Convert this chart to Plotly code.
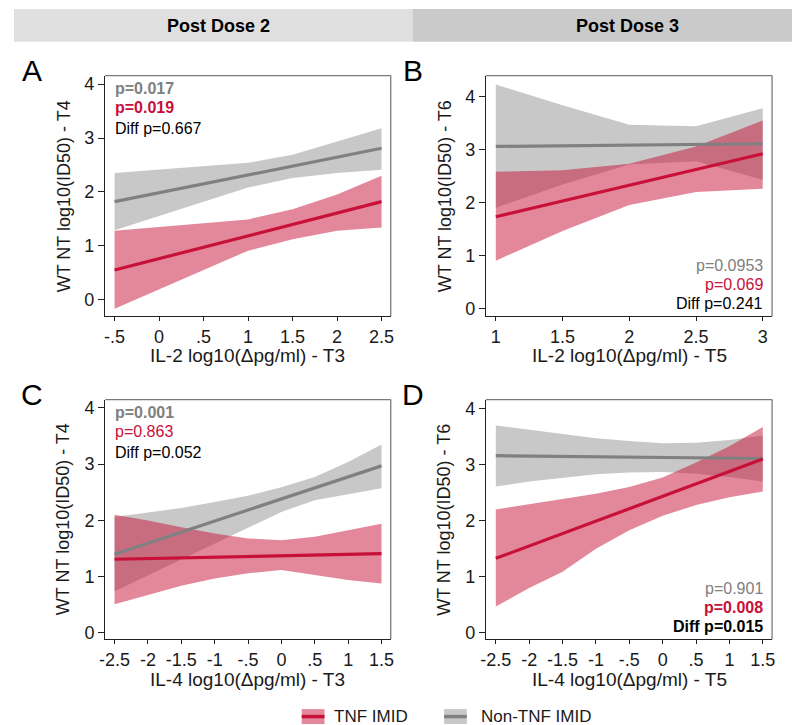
import plotly.graph_objects as go

# ---------------- data ----------------
# Panel A : IL-2 (T3) vs WT NT (T4), Post Dose 2
A_line_x = [-0.5, 2.5]
A_gray_line = [1.82, 2.81]
A_red_line = [0.55, 1.82]
A_band_x = [-0.5, 1, 1.5, 2, 2.5]
A_gray_upper = [2.35, 2.54, 2.69, 2.94, 3.18]
A_gray_lower = [1.29, 2.08, 2.26, 2.35, 2.41]
A_red_upper = [1.28, 1.49, 1.68, 1.95, 2.30]
A_red_lower = [-0.17, 0.91, 1.12, 1.28, 1.34]

# Panel B : IL-2 (T5) vs WT NT (T6), Post Dose 3
B_line_x = [1, 3]
B_gray_line = [3.06, 3.11]
B_red_line = [1.73, 2.92]
B_band_x = [1, 1.5, 2, 2.5, 3]
B_gray_upper = [4.23, 3.84, 3.47, 3.44, 3.78]
B_gray_lower = [1.90, 2.34, 2.72, 2.78, 2.43]
B_red_upper = [2.58, 2.61, 2.73, 3.06, 3.55]
B_red_lower = [0.90, 1.46, 1.95, 2.20, 2.26]

# Panel C : IL-4 (T3) vs WT NT (T4), Post Dose 2
C_line_x = [-2.5, 1.5]
C_gray_line = [1.40, 2.97]
C_red_line = [1.31, 1.41]
C_band_x = [-2.5, -2, -1.5, -1, -0.5, 0, 0.5, 1, 1.5]
C_gray_upper = [2.06, 2.14, 2.22, 2.33, 2.44, 2.59, 2.77, 3.04, 3.35]
C_gray_lower = [0.74, 1.02, 1.30, 1.58, 1.87, 2.15, 2.36, 2.47, 2.57]
C_red_upper = [2.10, 2.00, 1.88, 1.77, 1.68, 1.65, 1.71, 1.83, 1.94]
C_red_lower = [0.51, 0.68, 0.84, 0.97, 1.06, 1.12, 1.03, 0.94, 0.88]

# Panel D : IL-4 (T5) vs WT NT (T6), Post Dose 3
D_line_x = [-2.5, 1.5]
D_gray_line = [3.16, 3.11]
D_red_line = [1.33, 3.10]
D_band_x = [-2.5, -2, -1.5, -1, -0.5, 0, 0.5, 1, 1.5]
D_gray_upper = [3.70, 3.62, 3.54, 3.47, 3.42, 3.38, 3.39, 3.44, 3.52]
D_gray_lower = [2.61, 2.70, 2.77, 2.83, 2.86, 2.87, 2.84, 2.78, 2.70]
D_red_upper = [2.20, 2.30, 2.39, 2.48, 2.60, 2.77, 3.04, 3.33, 3.67]
D_red_lower = [0.47, 0.80, 1.09, 1.50, 1.83, 2.09, 2.28, 2.42, 2.52]

# tick labels
AB_y_ticks = [0, 1, 2, 3, 4]
A_x_ticks = [-0.5, 0, 0.5, 1, 1.5, 2, 2.5]
A_x_labels = ["-.5", "0", ".5", "1", "1.5", "2", "2.5"]
B_x_ticks = [1, 1.5, 2, 2.5, 3]
B_x_labels = ["1", "1.5", "2", "2.5", "3"]
CD_x_ticks = [-2.5, -2, -1.5, -1, -0.5, 0, 0.5, 1, 1.5]
CD_x_labels = ["-2.5", "-2", "-1.5", "-1", "-.5", "0", ".5", "1", "1.5"]

# text
x_titles = ["IL-2 log10(\u0394pg/ml) - T3", "IL-2 log10(\u0394pg/ml) - T5",
            "IL-4 log10(\u0394pg/ml) - T3", "IL-4 log10(\u0394pg/ml) - T5"]
y_titles = ["WT NT log10(ID50) - T4", "WT NT log10(ID50) - T6",
            "WT NT log10(ID50) - T4", "WT NT log10(ID50) - T6"]
panel_letters = ["A", "B", "C", "D"]
# (gray p, red p, diff p) and bold flags
p_texts = [("p=0.017", "p=0.019", "Diff p=0.667"),
           ("p=0.0953", "p=0.069", "Diff p=0.241"),
           ("p=0.001", "p=0.863", "Diff p=0.052"),
           ("p=0.901", "p=0.008", "Diff p=0.015")]
p_bold = [(True, True, False), (False, False, False),
          (True, False, False), (False, True, True)]
headers = ["Post Dose 2", "Post Dose 3"]
legend_names = ["TNF IMID", "Non-TNF IMID"]

# ---------------- styling ----------------
RED = "rgb(200,16,56)"
RED_FILL = "rgba(200,16,56,0.5)"
GRAY = "rgb(128,128,128)"
GRAY_FILL = "rgb(200,200,200)"
FONT = "Liberation Sans, Arial, sans-serif"
W, H = 800, 725

def px_x(p):
    return p / W

def px_y(p):
    return 1 - p / H

# plot frames in pixels: (left, right, top, bottom)
frames = [(92, 381, 67, 309.3), (477.3, 766.7, 67, 309.3),
          (92.3, 381, 393.3, 634.7), (477.3, 766.7, 393.3, 634.7)]
x_ranges = [[-0.608, 2.603], [0.926, 3.07], [-2.639, 1.638], [-2.648, 1.639]]
y_ranges = [[-0.306, 4.16], [-0.15, 4.40], [-0.113, 4.148], [-0.113, 4.16]]
x_tickvals = [A_x_ticks, B_x_ticks, CD_x_ticks, CD_x_ticks]
x_ticktext = [A_x_labels, B_x_labels, CD_x_labels, CD_x_labels]

panels = [
    (A_line_x, A_gray_line, A_red_line, A_band_x, A_gray_upper, A_gray_lower, A_red_upper, A_red_lower),
    (B_line_x, B_gray_line, B_red_line, B_band_x, B_gray_upper, B_gray_lower, B_red_upper, B_red_lower),
    (C_line_x, C_gray_line, C_red_line, C_band_x, C_gray_upper, C_gray_lower, C_red_upper, C_red_lower),
    (D_line_x, D_gray_line, D_red_line, D_band_x, D_gray_upper, D_gray_lower, D_red_upper, D_red_lower),
]

fig = go.Figure()
layout = dict(width=W, height=H, margin=dict(l=0, r=0, t=0, b=0),
              plot_bgcolor="white", paper_bgcolor="white", showlegend=False,
              font=dict(family=FONT, color="#111111"))
shapes = []
annotations = []
TICKFONT = dict(size=18, color="#1a1a1a", family=FONT)

for i, (lx, gl, rl, bx, gu, gd, ru, rd) in enumerate(panels):
    n = "" if i == 0 else str(i + 1)
    xa, ya = "x" + n, "y" + n
    poly_x = list(bx) + list(bx)[::-1]
    fig.add_trace(go.Scatter(x=poly_x, y=list(gu) + list(gd)[::-1], xaxis=xa, yaxis=ya,
                             fill="toself", fillcolor=GRAY_FILL, line=dict(width=0),
                             mode="lines", hoverinfo="skip"))
    fig.add_trace(go.Scatter(x=poly_x, y=list(ru) + list(rd)[::-1], xaxis=xa, yaxis=ya,
                             fill="toself", fillcolor=RED_FILL, line=dict(width=0),
                             mode="lines", hoverinfo="skip"))
    fig.add_trace(go.Scatter(x=lx, y=gl, xaxis=xa, yaxis=ya, mode="lines",
                             line=dict(color=GRAY, width=3.2)))
    fig.add_trace(go.Scatter(x=lx, y=rl, xaxis=xa, yaxis=ya, mode="lines",
                             line=dict(color=RED, width=3.2)))

    l, r, t, b = frames[i]
    layout["xaxis" + n] = dict(domain=[px_x(l), px_x(r)], range=x_ranges[i], anchor=ya,
                               tickvals=x_tickvals[i], ticktext=x_ticktext[i],
                               ticks="outside", ticklen=4, tickwidth=1, tickcolor="#222",
                               showline=True, linecolor="#222", linewidth=1.3,
                               showgrid=False, zeroline=False, tickfont=TICKFONT)
    layout["yaxis" + n] = dict(domain=[px_y(b), px_y(t)], range=y_ranges[i], anchor=xa,
                               tickvals=AB_y_ticks, ticks="outside", ticklen=6, tickwidth=1,
                               tickcolor="#222", showline=True, linecolor="#222", linewidth=1.3,
                               showgrid=False, zeroline=False, tickfont=TICKFONT)
    # top and right frame edges
    shapes.append(dict(type="line", xref="paper", yref="paper",
                       x0=px_x(l), x1=px_x(r), y0=px_y(t), y1=px_y(t),
                       line=dict(color="#7a7a7a", width=1.3)))
    shapes.append(dict(type="line", xref="paper", yref="paper",
                       x0=px_x(r), x1=px_x(r), y0=px_y(t), y1=px_y(b),
                       line=dict(color="#7a7a7a", width=1.3)))

    # axis titles
    annotations.append(dict(text=x_titles[i], xref="paper", yref="paper",
                            x=px_x((l + r) / 2), y=px_y(b + 40), xanchor="center", yanchor="middle",
                            showarrow=False, font=dict(size=19, family=FONT, color="#1a1a1a")))
    annotations.append(dict(text=y_titles[i], xref="paper", yref="paper",
                            x=px_x(l - 42), y=px_y((t + b) / 2), xanchor="center", yanchor="middle",
                            textangle=-90, showarrow=False,
                            font=dict(size=18, family=FONT, color="#1a1a1a")))
    # panel letters
    annotations.append(dict(text=panel_letters[i], xref="paper", yref="paper",
                            x=px_x(l - 74), y=px_y(t - 5), xanchor="center", yanchor="middle",
                            showarrow=False, font=dict(size=30, family=FONT, color="black")))
    # p-value texts
    colors = [GRAY, RED, "black"]
    if i in (0, 2):
        xs, anchor = l + 8, "left"
        ys = [t + 13, t + 32, t + 53]
    else:
        xs, anchor = r - 7, "right"
        ys = [b - 51, b - 32, b - 13]
    for k in range(3):
        txt = p_texts[i][k]
        if p_bold[i][k]:
            txt = "<b>" + txt + "</b>"
        annotations.append(dict(text=txt, xref="paper", yref="paper",
                                x=px_x(xs), y=px_y(ys[k]), xanchor=anchor, yanchor="middle",
                                showarrow=False, font=dict(size=16, family=FONT, color=colors[k])))

# header bars
shapes.append(dict(type="rect", xref="paper", yref="paper", x0=0, x1=px_x(403),
                   y0=px_y(33), y1=1, fillcolor="#e0e0e0", line=dict(width=0), layer="below"))
shapes.append(dict(type="rect", xref="paper", yref="paper", x0=px_x(403), x1=1,
                   y0=px_y(33), y1=1, fillcolor="#cbcacb", line=dict(width=0), layer="below"))
for txt, cx in zip(headers, [207, 620]):
    annotations.append(dict(text="<b>" + txt + "</b>", xref="paper", yref="paper",
                            x=px_x(cx), y=px_y(17), xanchor="center", yanchor="middle",
                            showarrow=False, font=dict(size=18, family=FONT, color="black")))

# legend (manual)
legend_items = [(legend_names[0], RED_FILL, RED, 291, 322),
                (legend_names[1], GRAY_FILL, GRAY, 435, 470)]
for name, fc, lc, sx, tx in legend_items:
    shapes.append(dict(type="rect", xref="paper", yref="paper", x0=px_x(sx), x1=px_x(sx + 23),
                       y0=px_y(720), y1=px_y(705), fillcolor=fc, line=dict(width=0)))
    shapes.append(dict(type="line", xref="paper", yref="paper", x0=px_x(sx), x1=px_x(sx + 23),
                       y0=px_y(712.5), y1=px_y(712.5), line=dict(color=lc, width=3.5)))
    annotations.append(dict(text=name, xref="paper", yref="paper", x=px_x(tx), y=px_y(712),
                            xanchor="left", yanchor="middle", showarrow=False,
                            font=dict(size=17, family=FONT, color="#1a1a1a")))

layout["shapes"] = shapes
layout["annotations"] = annotations
fig.update_layout(**layout)
fig.write_html("out.html")
